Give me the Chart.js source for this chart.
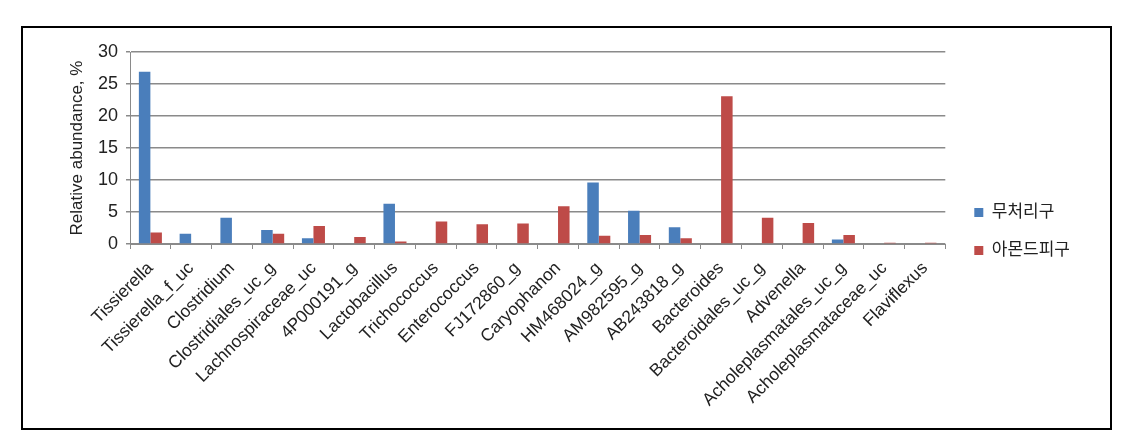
<!DOCTYPE html>
<html>
<head>
<meta charset="utf-8">
<script src="https://cdn.jsdelivr.net/npm/chart.js@4/dist/chart.umd.min.js"></script>
<style>
  body { margin: 0; background: #fff; }
  #frame {
    position: absolute; left: 21px; top: 26px;
    width: 1087px; height: 400px;
    border: 2px solid #000;
  }
  #wrap { position: absolute; left: 0; top: 0; width: 1087px; height: 400px; }
</style>
</head>
<body>
<div id="frame">
  <div id="wrap"><canvas id="chart"></canvas></div>
</div>
<script>
// Genus list (x axis)
const categories = [
    'Tissierella', 'Tissierella_f_uc', 'Clostridium', 'Clostridiales_uc_g',
    'Lachnospiraceae_uc', '4P000191_g', 'Lactobacillus', 'Trichococcus',
    'Enterococcus', 'FJ172860_g', 'Caryophanon', 'HM468024_g', 'AM982595_g',
    'AB243818_g', 'Bacteroides', 'Bacteroidales_uc_g', 'Advenella',
    'Acholeplasmatales_uc_g', 'Acholeplasmataceae_uc', 'Flaviflexus'
];

// Relative abundance, %
const controlValues = [26.9, 1.6, 4.1, 2.2, 0.9, 0, 6.3, 0, 0, 0, 0, 9.6, 5.2, 2.6, 0, 0, 0, 0.7, 0, 0];
const almondValues  = [1.8, 0, 0, 1.6, 2.8, 1.1, 0.4, 3.5, 3.1, 3.2, 5.9, 1.3, 1.4, 0.9, 23.1, 4.1, 3.3, 1.4, 0.2, 0.2];

const seriesNames = ['무처리구', '아몬드피구'];
const yTicks = [0, 5, 10, 15, 20, 25, 30];

const FONT = "'Liberation Sans', Arial, 'Noto Sans CJK KR', sans-serif";
const GRID = '#8a8a8a';

const ctx = document.getElementById('chart').getContext('2d');
new Chart(ctx, {
    type: 'bar',
    data: {
        labels: categories,
        datasets: [{
            label: seriesNames[0],
            data: controlValues,
            backgroundColor: '#4a7ebb'
        }, {
            label: seriesNames[1],
            data: almondValues,
            backgroundColor: '#be4b48'
        }]
    },
    options: {
        responsive: true,
        maintainAspectRatio: false,
        animation: false,
        datasets: {
            bar: { categoryPercentage: 0.565, barPercentage: 1.0 }
        },
        layout: {
            padding: { left: 44, right: 30, top: 24, bottom: 17 }
        },
        plugins: {
            tooltip: { enabled: false },
            legend: {
                position: 'right',
                align: 'center',
                labels: {
                    boxWidth: 9,
                    boxHeight: 9,
                    padding: 21,
                    color: '#222',
                    font: { family: FONT, size: 17 }
                }
            }
        },
        scales: {
            x: {
                afterFit: s => { s.height = 167; },
                grid: {
                    drawOnChartArea: false,
                    drawTicks: true,
                    tickLength: 5,
                    color: GRID,
                    offset: true
                },
                border: { color: GRID, width: 1 },
                ticks: {
                    autoSkip: false,
                    maxRotation: 45,
                    minRotation: 45,
                    padding: 9,
                    color: '#222',
                    font: { family: FONT, size: 17.5 }
                }
            },
            y: {
                min: 0,
                max: 30,
                afterFit: s => { s.width = 63; },
                afterBuildTicks: axis => {
                    axis.ticks = yTicks.map(v => ({ value: v }));
                },
                grid: { color: GRID, lineWidth: 1.5, tickLength: 4 },
                border: { color: GRID, width: 1 },
                ticks: {
                    padding: 8,
                    color: '#222',
                    font: { family: FONT, size: 18 }
                },
                title: {
                    display: true,
                    text: 'Relative abundance, %',
                    color: '#222',
                    padding: 0,
                    font: { family: FONT, size: 17 }
                }
            },
            // empty right axis, only keeps a gap between plot and legend
            gap: {
                type: 'linear',
                position: 'right',
                display: true,
                afterFit: s => { s.width = 8; },
                grid: { display: false },
                border: { display: false },
                ticks: { display: false }
            }
        }
    }
});
</script>
</body>
</html>
